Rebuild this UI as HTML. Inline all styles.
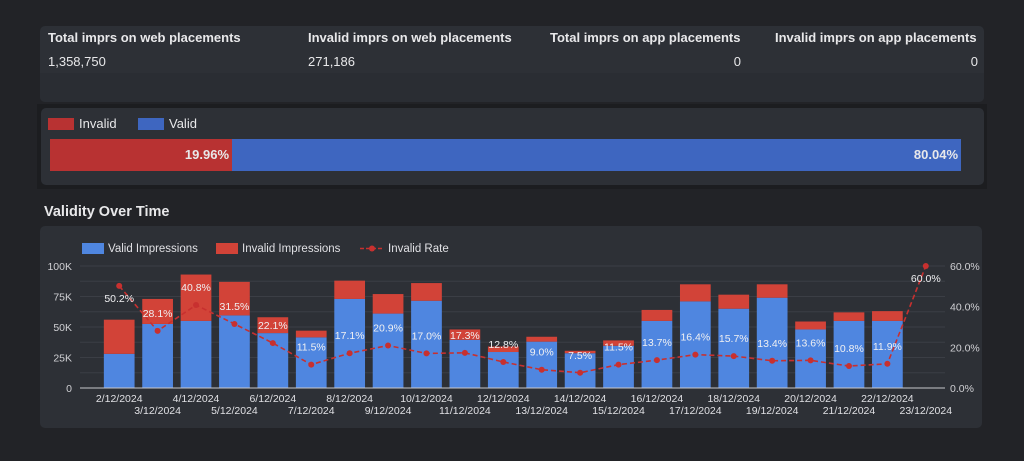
<!DOCTYPE html>
<html><head><meta charset="utf-8"><style>
body{margin:0;width:1024px;height:461px;background:#222327;font-family:"Liberation Sans","DejaVu Sans",sans-serif;color:#e8e8ea;overflow:hidden;position:relative}
.abs{position:absolute;white-space:nowrap}
</style></head><body>
<div class="abs" style="left:40px;top:26px;width:944px;height:76px;background:#2d3036;border-radius:5px">
 <div class="abs" style="left:0;top:47px;width:944px;height:29px;background:#2a2d33;border-radius:0 0 5px 5px"></div>
 <div class="abs" style="left:8px;top:4px;font-size:13px;font-weight:bold">Total imprs on web placements</div>
 <div class="abs" style="left:268px;top:4px;font-size:13px;font-weight:bold">Invalid imprs on web placements</div>
 <div class="abs" style="left:510px;top:4px;font-size:13px;font-weight:bold">Total imprs on app placements</div>
 <div class="abs" style="left:735px;top:4px;font-size:13px;font-weight:bold">Invalid imprs on app placements</div>
 <div class="abs" style="left:8px;top:28px;font-size:13px">1,358,750</div>
 <div class="abs" style="left:268px;top:28px;font-size:13px">271,186</div>
 <div class="abs" style="right:243px;top:28px;font-size:13px">0</div>
 <div class="abs" style="right:6px;top:28px;font-size:13px">0</div>
</div>
<div class="abs" style="left:37px;top:104px;width:950px;height:85px;background:#1c1d20"></div>
<div class="abs" style="left:41px;top:108px;width:943px;height:77px;background:#2d3036;border-radius:5px">
 <div class="abs" style="left:7px;top:8px;font-size:13px;display:flex;align-items:center"><span style="display:inline-block;width:26px;height:12px;background:#b83232;margin-right:5px"></span>Invalid</div>
 <div class="abs" style="left:97px;top:8px;font-size:13px;display:flex;align-items:center"><span style="display:inline-block;width:26px;height:12px;background:#3e66c0;margin-right:5px"></span>Valid</div>
 <div class="abs" style="left:9px;top:31px;width:182px;height:32px;background:#b83232;text-align:right;font-size:13px;font-weight:bold;line-height:32px;box-sizing:border-box;padding-right:3px">19.96%</div>
 <div class="abs" style="left:191px;top:31px;width:729px;height:32px;background:#3e66c0;text-align:right;font-size:13px;font-weight:bold;line-height:32px;box-sizing:border-box;padding-right:3px">80.04%</div>
</div>
<div class="abs" style="left:44px;top:204px;font-size:14.5px;font-weight:bold">Validity Over Time</div>
<div class="abs" style="left:40px;top:226px;width:942px;height:202px;background:#2d3036;border-radius:5px"></div>
<svg class="abs" style="left:0;top:0" width="1024" height="461" id="chart"></svg>
<script>
const categories=["2/12/2024","3/12/2024","4/12/2024","5/12/2024","6/12/2024","7/12/2024","8/12/2024","9/12/2024","10/12/2024","11/12/2024","12/12/2024","13/12/2024","14/12/2024","15/12/2024","16/12/2024","17/12/2024","18/12/2024","19/12/2024","20/12/2024","21/12/2024","22/12/2024","23/12/2024"];
const validK=[28,52.5,55,59.5,45,41.5,73,61,71.5,39.5,29.5,38,28.5,34.6,55,71,65,74,48,55,55,0];
const invalidK=[28,20.5,38,27.5,13,5.5,15,16,14.5,8.5,4.5,4,2,4.4,9,14,11.5,11,6.5,7,8,0];
const ratePct=[50.2,28.1,40.8,31.5,22.1,11.5,17.1,20.9,17.0,17.3,12.8,9.0,7.5,11.5,13.7,16.4,15.7,13.4,13.6,10.8,11.9,60.0];
const leftTicks=[0,25,50,75,100];
const leftLabels=["0","25K","50K","75K","100K"];
const rightTicks=[0,20,40,60];
const rightLabels=["0.0%","20.0%","40.0%","60.0%"];
const svg=document.getElementById('chart');const NS='http://www.w3.org/2000/svg';
const FF='Liberation Sans,DejaVu Sans,sans-serif';
function mk(t,a,p){const e=document.createElementNS(NS,t);for(const k in a)e.setAttribute(k,a[k]);(p||svg).appendChild(e);return e;}
const X0=100,X1=945,Y0=388,Y1=266;
const bw=(X1-X0)/categories.length;
const xc=i=>X0+bw*(i+0.5);
const yL=v=>Y0-(v/100)*(Y0-Y1);
const yR=v=>Y0-(v/60)*(Y0-Y1);
for(let v=0;v<=100;v+=12.5){const l=mk('line',{x1:80,x2:945,y1:yL(v),y2:yL(v),stroke:'#3b3e45','stroke-width':1});}
leftTicks.forEach((v,i)=>{const t=mk('text',{x:72,y:yL(v)+4,'text-anchor':'end',fill:'#d0d0d4','font-size':10.5,'font-family':FF});t.textContent=leftLabels[i];});
rightTicks.forEach((v,i)=>{const t=mk('text',{x:950,y:yR(v)+4,fill:'#d0d0d4','font-size':10.5,'font-family':FF});t.textContent=rightLabels[i];});
categories.forEach((c,i)=>{
 const w=bw*0.8,x=xc(i)-w/2;
 if(validK[i]>0){const r=mk('rect',{x:x,y:yL(validK[i]),width:w,height:Y0-yL(validK[i]),fill:'#4f86e0'});}
 if(invalidK[i]>0){const r=mk('rect',{x:x,y:yL(validK[i]+invalidK[i]),width:w,height:yL(validK[i])-yL(validK[i]+invalidK[i]),fill:'#d24338'});}
 const t=mk('text',{x:xc(i),y:i%2?414:402,'text-anchor':'middle',fill:'#e0e0e4','font-size':10.5,'font-family':FF});t.textContent=c;
});
mk('line',{x1:80,x2:945,y1:Y0,y2:Y0,stroke:'#c8c8cc','stroke-width':1});
const pts=ratePct.map((v,i)=>xc(i)+','+yR(v)).join(' ');
const pl=mk('polyline',{points:pts,fill:'none',stroke:'#c8302f','stroke-width':1.6,'stroke-dasharray':'5,3'});

ratePct.forEach((v,i)=>{const c=mk('circle',{cx:xc(i),cy:yR(v),r:3,fill:'#c8302f'});
 const t=mk('text',{x:xc(i),y:yR(v)-(i==0||i==21?-16:14),'text-anchor':'middle',fill:'#f0f0f2','font-size':10.5,'font-family':FF});t.textContent=v.toFixed(1)+'%';});
const lg=[[82,'#4f86e0','Valid Impressions'],[216,'#d24338','Invalid Impressions']];
lg.forEach(l=>{const r=mk('rect',{x:l[0],y:243,width:22,height:11,fill:l[1]});const t=mk('text',{x:l[0]+26,y:252,fill:'#e0e0e4','font-size':11.5,'font-family':FF});t.textContent=l[2];});
mk('line',{x1:360,x2:384,y1:248.5,y2:248.5,stroke:'#c8302f','stroke-width':1.6,'stroke-dasharray':'4,2'});mk('circle',{cx:372,cy:248.5,r:3,fill:'#c8302f'});
const lt=mk('text',{x:388,y:252,fill:'#e0e0e4','font-size':11.5,'font-family':FF});lt.textContent='Invalid Rate';
</script>
</body></html>
